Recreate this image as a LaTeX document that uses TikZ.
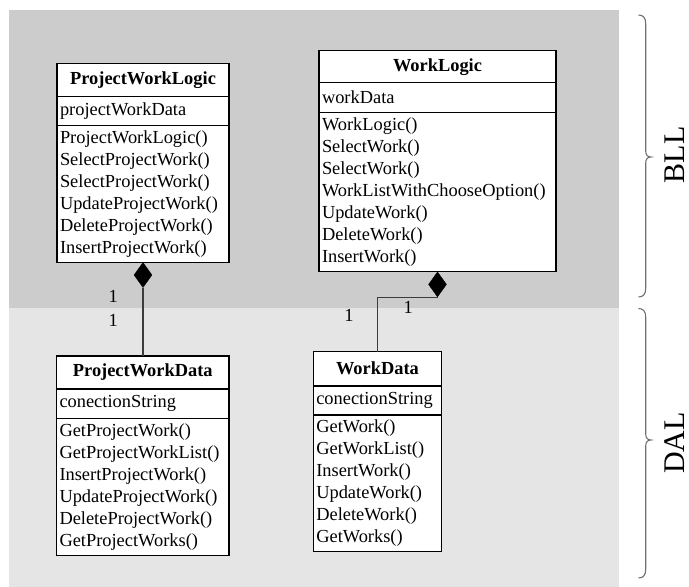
\documentclass[tikz,border=0pt]{standalone}
\usepackage{fontspec}
\setmainfont{Liberation Serif}
\usetikzlibrary{shapes.geometric}
\definecolor{bllgray}{HTML}{CCCCCC}
\definecolor{dalgray}{HTML}{E5E5E5}
\definecolor{bracegray}{HTML}{707070}
\definecolor{linkgray}{HTML}{3C3C3C}

\begin{document}
\begin{tikzpicture}[x=1bp,y=-1bp,
  umlfont/.style={font=\fontsize{18.4bp}{22bp}\selectfont},
  compart/.style={draw=black, fill=white, line width=1.3bp, anchor=north west,
    inner sep=0pt, outer sep=0pt},
  titlepart/.style 2 args={compart, minimum width=#1, minimum height=#2,
    font=\fontsize{18.4bp}{22bp}\selectfont\bfseries},
  listpart/.style n args={3}{compart, minimum width=#1, minimum height=#2,
    text width=#3, inner xsep=3bp, align=left, umlfont},
  compose/.style={diamond, fill=black, draw=black, line width=0.4bp,
    minimum width=18bp, minimum height=25bp, inner sep=0pt, anchor=north},
  link/.style={draw=linkgray, line width=1.2bp},
  mult/.style={umlfont, inner sep=0pt},
  layerbrace/.style={draw=bracegray, line width=1.1bp},
  layername/.style={rotate=90, font=\fontsize{30bp}{32bp}\selectfont, inner sep=0pt}]

\useasboundingbox (0,0) rectangle (689,587);

% layer backgrounds
\fill[bllgray] (9,10) rectangle (618.5,308.3);
\fill[dalgray] (9,308.3) rectangle (618.5,587);

% ProjectWorkLogic
\node[titlepart={172bp}{33.4bp}] (pwlT) at (57,63.3) {ProjectWorkLogic};
\node[listpart={172bp}{29bp}{166bp}] (pwlA) at (pwlT.south west) {projectWorkData};
\node[listpart={172bp}{136.6bp}{166bp}] (pwlM) at (pwlA.south west)
  {ProjectWorkLogic()\\SelectProjectWork()\\SelectProjectWork()\\UpdateProjectWork()\\DeleteProjectWork()\\InsertProjectWork()};

% WorkLogic
\node[titlepart={237bp}{32bp}] (wlT) at (319,50.7) {WorkLogic};
\node[listpart={237bp}{30bp}{231bp}] (wlA) at (wlT.south west) {workData};
\node[listpart={237bp}{159bp}{231bp}] (wlM) at (wlA.south west)
  {WorkLogic()\\SelectWork()\\SelectWork()\\WorkListWithChooseOption()\\UpdateWork()\\DeleteWork()\\InsertWork()};

% ProjectWorkData
\node[titlepart={172.5bp}{33bp}] (pwdT) at (56.5,356) {ProjectWorkData};
\node[listpart={172.5bp}{29.3bp}{166.5bp}] (pwdA) at (pwdT.south west) {conectionString};
\node[listpart={172.5bp}{137.4bp}{166.5bp}] (pwdM) at (pwdA.south west)
  {GetProjectWork()\\GetProjectWorkList()\\InsertProjectWork()\\UpdateProjectWork()\\DeleteProjectWork()\\GetProjectWorks()};

% WorkData
\node[titlepart={128.3bp}{34.5bp}] (wdT) at (313.3,351.5) {WorkData};
\node[listpart={128.3bp}{29bp}{122.3bp}] (wdA) at (wdT.south west) {conectionString};
\node[listpart={128.3bp}{136.7bp}{122.3bp}] (wdM) at (wdA.south west)
  {GetWork()\\GetWorkList()\\InsertWork()\\UpdateWork()\\DeleteWork()\\GetWorks()};

% composition diamonds and links
\node[compose] (pwlD) at (pwlM.south) {};
\node[compose] (wlD) at (wlM.south) {};
\draw[link] (pwlD.south) -- (pwlD.south |- pwdT.north);
\draw[link] (wdT.north) |- (wlD.south);

% multiplicities
\node[mult] (m1) at (113.3,296.7) {1};
\node[mult] (m2) at (113.3,320.7) {1};
\node[mult] (m3) at (349,315.7) {1};
\node[mult] (m4) at (408.3,307.3) {1};

% layer braces
\draw[layerbrace] (638.5,15) .. controls (643.5,15) and (645.7,18) .. (645.7,24)
  -- (645.7,151) .. controls (645.7,155) and (647.5,157) .. (651,157)
  .. controls (647.5,157) and (645.7,159) .. (645.7,163)
  -- (645.7,288) .. controls (645.7,294) and (643.5,297) .. (638.5,297);
\draw[layerbrace] (638.5,308.5) .. controls (643.5,308.5) and (645.7,311.5) .. (645.7,317.5)
  -- (645.7,434) .. controls (645.7,438) and (647.5,440) .. (651,440)
  .. controls (647.5,440) and (645.7,442) .. (645.7,446)
  -- (645.7,569) .. controls (645.7,575) and (643.5,578) .. (638.5,578);

\node[layername] (bll) at (675,155) {BLL};
\node[layername] (dal) at (675,443) {DAL};
\end{tikzpicture}
\end{document}
